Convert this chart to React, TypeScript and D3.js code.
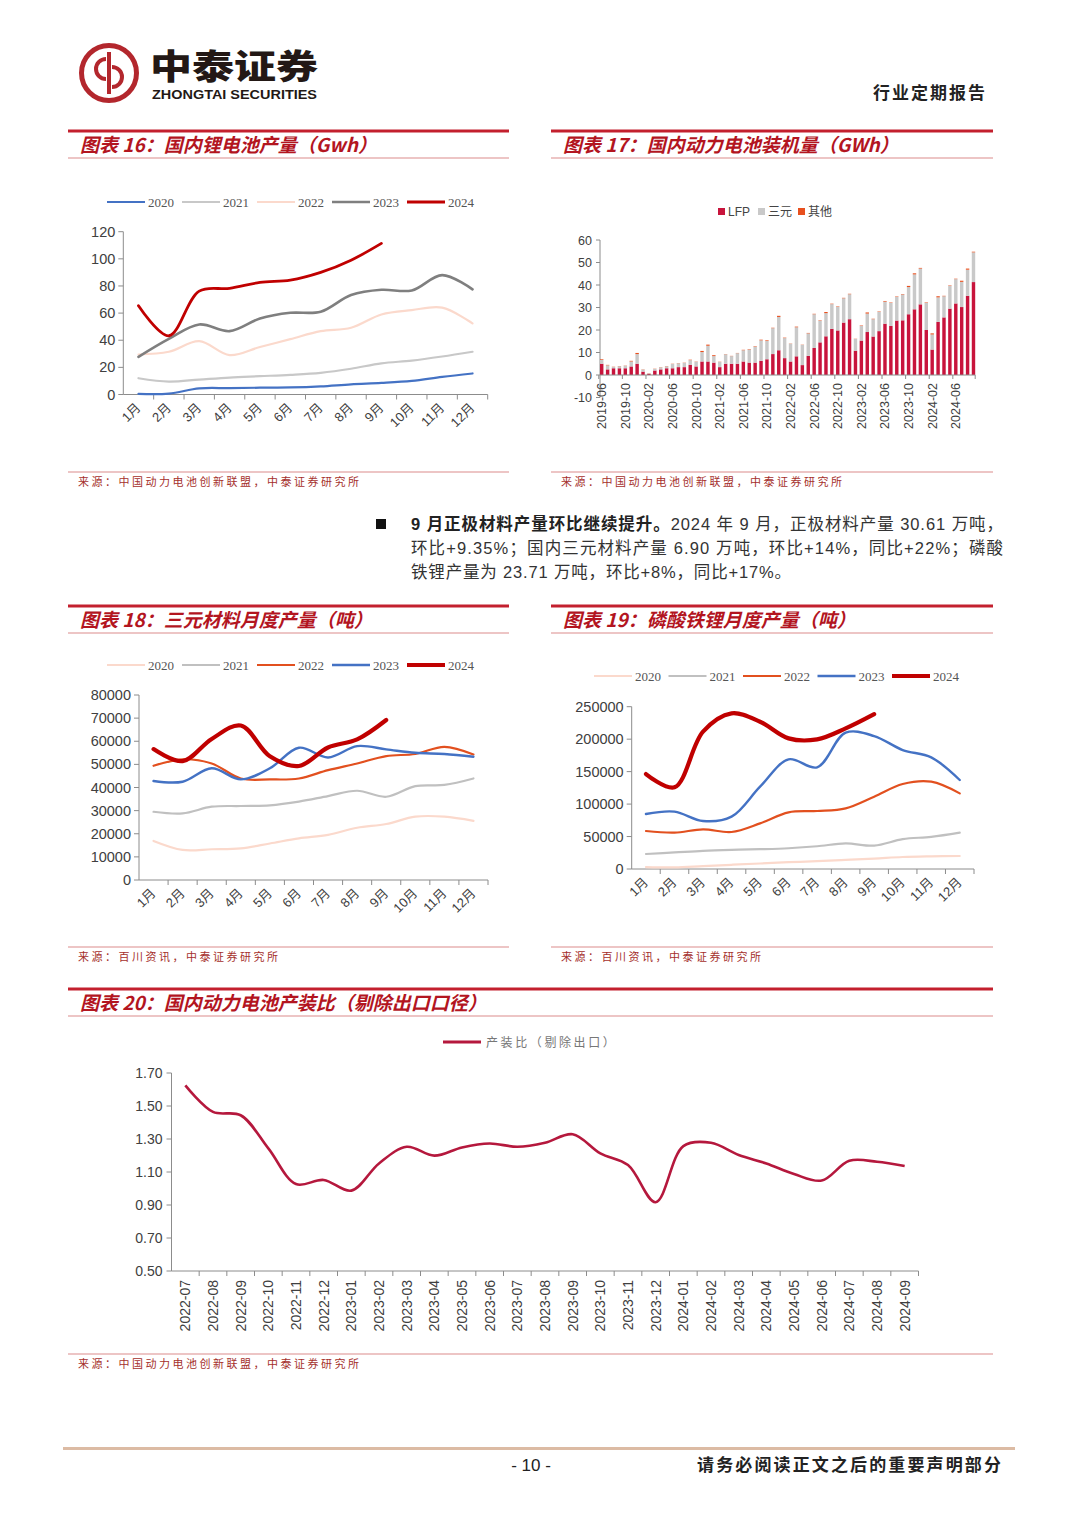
import React from 'react';
import * as d3 from 'd3';

// ---- categories ----
const months = ['1月', '2月', '3月', '4月', '5月', '6月', '7月', '8月', '9月', '10月', '11月', '12月'];
const years = ['2020', '2021', '2022', '2023', '2024'];
const fmtYm = d3.timeFormat('%Y-%m');
const installMonths = d3.timeMonths(new Date(2019, 5, 1), new Date(2024, 9, 1)).map(fmtYm);
const ratioMonths = d3.timeMonths(new Date(2022, 6, 1), new Date(2024, 9, 1)).map(fmtYm);

// ---- 图表16 国内锂电池产量 (GWh) ----
const li2020 = [0.5, 0.7, 4.5, 4.7, 5, 5.2, 6, 7.5, 8.5, 10, 13, 15.5];
const li2021 = [12, 9.5, 11, 12.5, 13.5, 14.5, 16, 19, 23, 25, 28, 31.5];
const li2022 = [29.5, 31.5, 39.3, 29, 35, 40.8, 46.7, 49.2, 59, 62.2, 64, 52.4];
const li2023 = [27.8, 41, 51.6, 46.7, 56, 60.2, 61, 73.3, 77.2, 76.7, 88, 77.5];
const li2024 = [65.4, 43.3, 76.2, 78.2, 82.6, 84.3, 90, 99, 111.4];

// ---- 图表17 装机量 (GWh) ----
const lfpInstall = [5, 2.5, 3, 3, 3, 3.8, 5, 1.5, 0.5, 2, 2.5, 3, 3, 3.5, 3.5, 4.5, 3.8, 6, 6, 5.5, 3.5, 5, 5, 5, 6, 5.5, 5.5, 6.3, 7, 9.3, 11, 7.5, 6, 8.3, 4.4, 8.5, 12, 14.5, 17.2, 20.5, 19.8, 23.3, 24.8, 10.8, 15.3, 19.1, 17.1, 19.5, 22.8, 21.8, 24.2, 24.3, 27, 29.2, 31.4, 20, 11.3, 23.6, 25.6, 29.5, 31.8, 30.2, 35.2, 41.3];
const ternaryInstall = [1.7, 1.8, 0.6, 0.9, 1.1, 2.2, 4.3, 0.9, 0.2, 0.7, 0.9, 0.9, 1.9, 1.7, 1.9, 2.1, 2.1, 4.2, 7, 2.9, 2.3, 4.2, 3.4, 4.7, 5, 5.8, 7.1, 9.1, 8.1, 11.5, 14.8, 8.9, 7.9, 12.9, 9, 10, 15, 9.6, 10.3, 11, 10.5, 10.8, 11.1, 5.2, 6.5, 8.2, 7.7, 8.5, 9.8, 10.2, 10.5, 11.5, 12.1, 15.5, 15.9, 12.1, 6.7, 10.9, 9.4, 10.1, 10.8, 11.2, 11.6, 13.2];
const otherInstall = [0.3, 0.2, 0.1, 0.1, 0.1, 0.3, 0.5, 0.1, 0.1, 0.1, 0.1, 0.1, 0.1, 0.1, 0.1, 0.2, 0.1, 0.5, 0.5, 0.4, 0.1, 0.1, 0.1, 0.1, 0.2, 0.2, 0.2, 0.3, 0.3, 0.2, 0.5, 0.2, 0.1, 0.3, 0.1, 0.2, 0.2, 0.2, 0.5, 0.2, 0.2, 0.2, 0.2, 0.1, 0.2, 0.5, 0.2, 0.2, 0.3, 0.2, 0.2, 0.2, 0.5, 0.5, 0.3, 0.2, 0.5, 0.5, 0.2, 0.2, 0.2, 0.5, 0.5, 0.3];

// ---- 图表18 三元材料月度产量 (吨) ----
const ncm2020 = [16900, 13000, 13300, 13700, 15800, 18000, 19500, 22600, 24200, 27400, 27400, 25600];
const ncm2021 = [29500, 28800, 31700, 32000, 32300, 33900, 36300, 38600, 36000, 40600, 41100, 43900];
const ncm2022 = [49400, 52200, 50400, 43900, 43500, 43900, 47500, 50400, 53600, 54500, 57600, 54300];
const ncm2023 = [42800, 42500, 48300, 43500, 48300, 57200, 53000, 57900, 56500, 55000, 54500, 53300];
const ncm2024 = [56600, 51400, 61000, 66800, 53500, 49300, 57300, 60800, 69200];

// ---- 图表19 磷酸铁锂月度产量 (吨) ----
const lfp2020 = [3000, 2500, 4500, 6500, 8500, 10500, 12000, 14000, 16000, 18500, 19500, 20000];
const lfp2021 = [23100, 25500, 28000, 29500, 30500, 32000, 35000, 39500, 36000, 46000, 49500, 56000];
const lfp2022 = [58500, 56000, 61100, 57000, 70300, 87300, 89300, 93400, 111400, 130900, 134500, 116500];
const lfp2023 = [84700, 88300, 73900, 80600, 126800, 168900, 156600, 210000, 204800, 183300, 172000, 137100];
const lfp2024 = [146300, 125800, 211500, 239700, 226900, 201200, 199700, 216600, 238500];

// ---- 图表20 产装比 ----
const ratio = [1.625, 1.464, 1.444, 1.243, 1.027, 1.052, 0.987, 1.152, 1.253, 1.199, 1.249, 1.273, 1.253, 1.277, 1.329, 1.213, 1.142, 0.917, 1.257, 1.277, 1.203, 1.152, 1.088, 1.048, 1.168, 1.162, 1.136];

const CJK = '"Noto Sans CJK SC", sans-serif';
const SANS = '"Liberation Sans", Arial, "Noto Sans CJK SC", sans-serif';
const SERIF = '"Liberation Serif", "Times New Roman", serif';
const AXIS = '#8c8c8c';
const TICK_TXT = '#404040';

function Frame({ x0, x1, yTop, ySrc, title, source }: any) {
  return (
    <g>
      <rect x={x0} y={yTop - 1.5} width={x1 - x0} height={3} fill="#c3202e" />
      <text x={x0 + 12} y={yTop + 20.5} fontFamily={CJK} fontSize={19} fontWeight={700} fontStyle="italic" fill="#b3151f">{title}</text>
      <line x1={x0} x2={x1} y1={yTop + 27} y2={yTop + 27} stroke="#dc8c8c" strokeWidth={1.2} />
      <line x1={x0} x2={x1} y1={ySrc} y2={ySrc} stroke="#dc8c8c" strokeWidth={1.2} />
      <text x={x0 + 10} y={ySrc + 14} fontFamily={CJK} fontSize={11} fill="#a5302c" letterSpacing={2.5}>{source}</text>
    </g>
  );
}

function YearLines({ left, right, bottom, top, yMax, yStep, series, legendX, legendY, legendGap }: any) {
  const x = d3.scaleBand().domain(months).range([left, right]);
  const y = d3.scaleLinear().domain([0, yMax]).range([bottom, top]);
  const cx = (i: number) => (x(months[i]) as number) + x.bandwidth() / 2;
  const line = d3.line<number>().x((_, i) => cx(i)).y(d => y(d)).curve(d3.curveCatmullRom.alpha(0.5));
  const yTicks = d3.range(0, yMax + 1, yStep);
  return (
    <g>
      {series.map((s: any, k: number) => (
        <g key={'lg' + k}>
          <line x1={legendX + k * legendGap} x2={legendX + k * legendGap + 38} y1={legendY} y2={legendY} stroke={s.color} strokeWidth={s.width} />
          <text x={legendX + k * legendGap + 41} y={legendY + 4.5} fontFamily={SERIF} fontSize={13} fill="#555">{s.name}</text>
        </g>
      ))}
      <line x1={left} x2={left} y1={top} y2={bottom} stroke={AXIS} />
      {yTicks.map(t => (
        <g key={'yt' + t}>
          <line x1={left - 5} x2={left} y1={y(t)} y2={y(t)} stroke={AXIS} />
          <text x={left - 8} y={y(t) + 5} textAnchor="end" fontFamily={SANS} fontSize={14.5} fill={TICK_TXT}>{t}</text>
        </g>
      ))}
      <line x1={left} x2={right} y1={bottom} y2={bottom} stroke={AXIS} />
      {months.map((m, i) => (
        <g key={'xt' + m}>
          <line x1={(x(m) as number) + x.bandwidth()} x2={(x(m) as number) + x.bandwidth()} y1={bottom} y2={bottom + 5} stroke={AXIS} />
          <text transform={`translate(${cx(i) + 3},${bottom + 14}) rotate(-45)`} textAnchor="end" fontFamily={SANS} fontSize={13} fill={TICK_TXT}>{m}</text>
        </g>
      ))}
      {series.map((s: any, k: number) => (
        <path key={'ln' + k} d={line(s.values) as string} fill="none" stroke={s.color} strokeWidth={s.width} strokeLinejoin="round" strokeLinecap="round" />
      ))}
    </g>
  );
}

function InstallBars() {
  const left = 600, right = 975.2, top = 240, bottom = 397.5;
  const x = d3.scaleBand().domain(installMonths).range([left, right]).paddingInner(0.42);
  const y = d3.scaleLinear().domain([-10, 60]).range([bottom, top]);
  const rows = installMonths.map((m, i) => ({ m, lfp: lfpInstall[i], tern: ternaryInstall[i], other: otherInstall[i] }));
  const stack = d3.stack<any>().keys(['lfp', 'tern', 'other'])(rows);
  const colors: any = { lfp: '#c8143c', tern: '#c9c9c9', other: '#e8501e' };
  const legend = [
    { label: 'LFP', color: colors.lfp, x: 718 },
    { label: '三元', color: colors.tern, x: 758 },
    { label: '其他', color: colors.other, x: 798 },
  ];
  const step = x.step();
  return (
    <g>
      {legend.map(l => (
        <g key={l.label}>
          <rect x={l.x} y={208} width={7} height={7} fill={l.color} />
          <text x={l.x + 10} y={216} fontFamily={SANS} fontSize={12} fill="#444">{l.label}</text>
        </g>
      ))}
      <line x1={left} x2={left} y1={top} y2={bottom} stroke={AXIS} />
      {d3.range(-10, 61, 10).map(t => (
        <g key={'t' + t}>
          <line x1={left - 4} x2={left} y1={y(t)} y2={y(t)} stroke={AXIS} />
          <text x={left - 8} y={y(t) + 4.5} textAnchor="end" fontFamily={SANS} fontSize={12.5} fill={TICK_TXT}>{t}</text>
        </g>
      ))}
      {stack.map(layer => (
        <g key={layer.key} fill={colors[layer.key]}>
          {layer.map((d: any, i: number) => (
            <rect key={i} x={x(installMonths[i]) as number} width={x.bandwidth()} y={y(d[1])} height={Math.max(0, y(d[0]) - y(d[1]))} />
          ))}
        </g>
      ))}
      <line x1={left} x2={right} y1={y(0)} y2={y(0)} stroke={AXIS} />
      <line x1={right} x2={right} y1={y(0)} y2={y(0) + 4} stroke={AXIS} />
      {installMonths.map((m, i) => i % 4 === 0 ? (
        <g key={m}>
          <line x1={(x(m) as number) - (step - x.bandwidth()) / 2} x2={(x(m) as number) - (step - x.bandwidth()) / 2} y1={y(0)} y2={y(0) + 4} stroke={AXIS} />
          <text transform={`translate(${(x(m) as number) + x.bandwidth() / 2 + 4.5},${y(0) + 8}) rotate(-90)`} textAnchor="end" fontFamily={SANS} fontSize={12.5} fill={TICK_TXT}>{m}</text>
        </g>
      ) : null)}
    </g>
  );
}

function RatioLine() {
  const left = 171.5, right = 918.5, top = 1073, bottom = 1271;
  const x = d3.scaleBand().domain(ratioMonths).range([left, right]);
  const y = d3.scaleLinear().domain([0.5, 1.7]).range([bottom, top]);
  const cx = (i: number) => (x(ratioMonths[i]) as number) + x.bandwidth() / 2;
  const line = d3.line<number>().x((_, i) => cx(i)).y(d => y(d)).curve(d3.curveCatmullRom.alpha(0.5));
  const NARROW = '"Liberation Sans Narrow", "Liberation Sans", Arial, sans-serif';
  return (
    <g>
      <line x1={443} x2={481} y1={1042} y2={1042} stroke="#b5183d" strokeWidth={3} />
      <text x={486} y={1046.5} fontFamily={CJK} fontSize={12} fill="#777" letterSpacing={2.6}>产装比（剔除出口）</text>
      <line x1={left} x2={left} y1={top} y2={bottom} stroke={AXIS} />
      {d3.range(0, 7).map(k => 0.5 + k * 0.2).map(t => (
        <g key={'t' + t}>
          <line x1={left - 5} x2={left} y1={y(t)} y2={y(t)} stroke={AXIS} />
          <text x={left - 9} y={y(t) + 5} textAnchor="end" fontFamily={NARROW} fontSize={14} fill={TICK_TXT}>{d3.format('.2f')(t)}</text>
        </g>
      ))}
      <line x1={left} x2={right} y1={bottom} y2={bottom} stroke={AXIS} />
      {ratioMonths.map((m, i) => (
        <g key={m}>
          <line x1={(x(m) as number) + x.bandwidth()} x2={(x(m) as number) + x.bandwidth()} y1={bottom} y2={bottom + 5} stroke={AXIS} />
          <text transform={`translate(${cx(i) + 5},${bottom + 9}) rotate(-90)`} textAnchor="end" fontFamily={NARROW} fontSize={14} fill={TICK_TXT}>{m}</text>
        </g>
      ))}
      <path d={line(ratio) as string} fill="none" stroke="#b5183d" strokeWidth={2.6} strokeLinejoin="round" />
    </g>
  );
}

function Logo() {
  return (
    <g>
      <circle cx={109} cy={73} r={27.5} fill="none" stroke="#b3272d" strokeWidth={5} />
      <path d="M109,52 L109,94" stroke="#b3272d" strokeWidth={4} />
      <path d="M109,63 A10,10 0 1 0 109,83" fill="none" stroke="#b3272d" strokeWidth={4} transform="translate(-3,-4)" />
      <path d="M109,63 A10,10 0 1 1 109,83" fill="none" stroke="#b3272d" strokeWidth={4} transform="translate(3,4)" />
      <text x={150} y={79} fontFamily={CJK} fontSize={34} fontWeight={900} fill="#231815" textLength={168} lengthAdjust="spacingAndGlyphs">中泰证券</text>
      <text x={152} y={99} fontFamily={SANS} fontSize={12} fontWeight={700} fill="#231815" textLength={165} lengthAdjust="spacingAndGlyphs">ZHONGTAI SECURITIES</text>
      <text x={985} y={99} textAnchor="end" fontFamily={CJK} fontSize={17} fontWeight={700} fill="#222" textLength={112}>行业定期报告</text>
    </g>
  );
}

export default function App() {
  const s16 = [li2020, li2021, li2022, li2023, li2024];
  const s18 = [ncm2020, ncm2021, ncm2022, ncm2023, ncm2024];
  const s19 = [lfp2020, lfp2021, lfp2022, lfp2023, lfp2024];
  const c16 = ['#4472c4', '#c8c8c8', '#fbd9cc', '#7f7f7f', '#c00000'];
  const w16 = [2.2, 2.2, 2.2, 2.6, 2.8];
  const c18 = ['#fbd9cc', '#c0c0c0', '#e2501f', '#4472c4', '#c00000'];
  const w18 = [2.2, 2.2, 2.2, 2.4, 4.2];
  const mk = (vals: number[][], cols: string[], ws: number[]) => vals.map((v, i) => ({ name: years[i], values: v, color: cols[i], width: ws[i] }));
  const srcA = '来源：中国动力电池创新联盟，中泰证券研究所';
  const srcB = '来源：百川资讯，中泰证券研究所';
  return (
    <svg width={1080} height={1527} style={{ position: 'absolute', left: 0, top: 0, background: '#fff' }}>
      <rect width={1080} height={1527} fill="#fff" />
      <Logo />

      <Frame x0={68} x1={509} yTop={131} ySrc={472} title="图表 16：国内锂电池产量（Gwh）" source={srcA} />
      <Frame x0={551} x1={993} yTop={131} ySrc={472} title="图表 17：国内动力电池装机量（GWh）" source={srcA} />
      <YearLines left={123.3} right={487.7} bottom={394.5} top={231.7} yMax={120} yStep={20}
        series={mk(s16, c16, w16)} legendX={107} legendY={202} legendGap={75} />
      <InstallBars />

      <rect x={376} y={519} width={10} height={10} fill="#111" />
      <text x={411} y={530} fontFamily={SANS} fontSize={16.5} fill="#333" textLength={592} lengthAdjust="spacing">
        <tspan fontWeight={700} fill="#222">9 月正极材料产量环比继续提升。</tspan>2024 年 9 月，正极材料产量 30.61 万吨，
      </text>
      <text x={411} y={554} fontFamily={SANS} fontSize={16.5} fill="#333" textLength={592} lengthAdjust="spacing">环比+9.35%；国内三元材料产量 6.90 万吨，环比+14%，同比+22%；磷酸</text>
      <text x={411} y={578} fontFamily={SANS} fontSize={16.5} fill="#333" textLength={380} lengthAdjust="spacing">铁锂产量为 23.71 万吨，环比+8%，同比+17%。</text>

      <Frame x0={68} x1={509} yTop={606} ySrc={947} title="图表 18：三元材料月度产量（吨）" source={srcB} />
      <Frame x0={551} x1={993} yTop={606} ySrc={947} title="图表 19：磷酸铁锂月度产量（吨）" source={srcB} />
      <YearLines left={139} right={488} bottom={880} top={695} yMax={80000} yStep={10000}
        series={mk(s18, c18, w18)} legendX={107} legendY={665} legendGap={75} />
      <YearLines left={631.7} right={974} bottom={869} top={706.7} yMax={250000} yStep={50000}
        series={mk(s19, c18, w18)} legendX={594} legendY={676} legendGap={74.5} />

      <Frame x0={68} x1={993} yTop={989} ySrc={1354} title="图表 20：国内动力电池产装比（剔除出口口径）" source={srcA} />
      <RatioLine />

      <rect x={63} y={1447} width={952} height={3} fill="#dcbba4" />
      <text x={531} y={1471} textAnchor="middle" fontFamily={SANS} fontSize={17} fill="#222">- 10 -</text>
      <text x={1001} y={1471} textAnchor="end" fontFamily={CJK} fontSize={17} fontWeight={700} fill="#222" textLength={304}>请务必阅读正文之后的重要声明部分</text>
    </svg>
  );
}
